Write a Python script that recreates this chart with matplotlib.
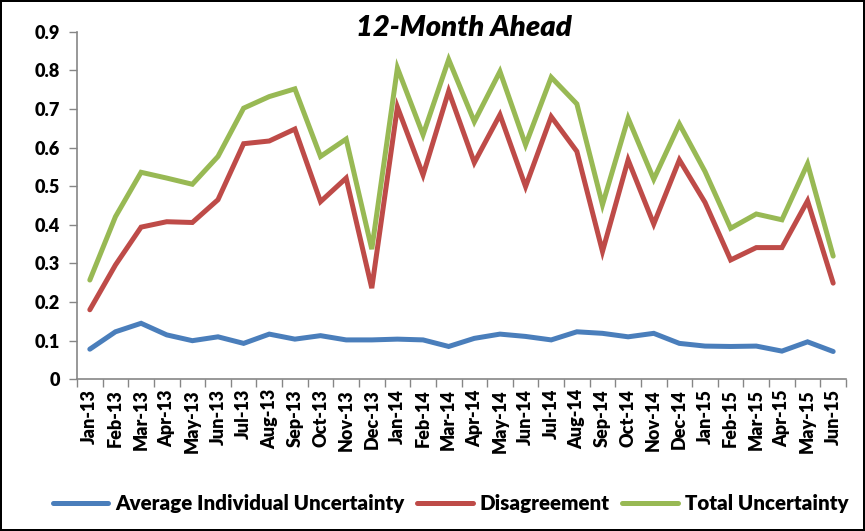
import matplotlib
matplotlib.use("Agg")
import matplotlib.pyplot as plt
import numpy as np

months = ["Jan-13", "Feb-13", "Mar-13", "Apr-13", "May-13", "Jun-13", "Jul-13", "Aug-13",
          "Sep-13", "Oct-13", "Nov-13", "Dec-13", "Jan-14", "Feb-14", "Mar-14", "Apr-14",
          "May-14", "Jun-14", "Jul-14", "Aug-14", "Sep-14", "Oct-14", "Nov-14", "Dec-14",
          "Jan-15", "Feb-15", "Mar-15", "Apr-15", "May-15", "Jun-15"]

avg_indiv = [0.078, 0.123, 0.145, 0.115, 0.100, 0.110, 0.093, 0.117, 0.104, 0.113,
             0.102, 0.102, 0.104, 0.102, 0.085, 0.106, 0.117, 0.111, 0.102, 0.123,
             0.119, 0.110, 0.119, 0.093, 0.086, 0.085, 0.086, 0.073, 0.097, 0.072]
disagreement = [0.180, 0.296, 0.394, 0.408, 0.406, 0.465, 0.610, 0.617, 0.648, 0.460,
                0.521, 0.236, 0.705, 0.529, 0.746, 0.561, 0.685, 0.499, 0.680, 0.590,
                0.331, 0.568, 0.402, 0.568, 0.458, 0.309, 0.341, 0.341, 0.462, 0.249]
total = [0.257, 0.421, 0.536, 0.521, 0.505, 0.577, 0.702, 0.732, 0.752, 0.577,
         0.622, 0.337, 0.806, 0.633, 0.828, 0.667, 0.797, 0.607, 0.782, 0.713,
         0.452, 0.676, 0.518, 0.661, 0.538, 0.391, 0.428, 0.413, 0.558, 0.319]

series = [
    ("Average Individual Uncertainty", avg_indiv, "#4A7EBB"),
    ("Disagreement", disagreement, "#BE4B48"),
    ("Total Uncertainty", total, "#98B954"),
]

plt.rcParams["font.family"] = ["Lato", "DejaVu Sans"]
plt.rcParams["font.weight"] = "heavy"

fig = plt.figure(figsize=(8.65, 5.31), dpi=100)
fig.patch.set_edgecolor("black")
fig.patch.set_linewidth(1.5)
ax = fig.add_axes([77 / 865, 1 - 379.3 / 531, (846 - 77) / 865, (379.3 - 31.7) / 531])

x = np.arange(len(months))
for name, vals, color in series:
    ax.plot(x, vals, color=color, lw=3.6, label=name, solid_capstyle="round",
            solid_joinstyle="miter")

ax.set_xlim(-0.5, len(months) - 0.5)
ax.set_ylim(0, 0.9)
ax.set_yticks(np.arange(0, 0.91, 0.1))
ax.set_yticklabels(["0"] + [f"{v:.1f}" for v in np.arange(0.1, 0.91, 0.1)],
                   fontsize=13, fontweight="heavy")
ax.set_xticks(x)
ax.set_xticklabels(months, rotation=90, fontsize=13, fontweight="heavy")
ax.set_xticks(np.arange(-0.5, len(months), 1.0), minor=True)
ax.tick_params(axis="x", which="major", length=0, pad=7)
ax.tick_params(axis="x", which="minor", length=6, color="#868686", width=1)
ax.tick_params(axis="y", length=6, color="#868686", width=1, pad=6)
for s in ("top", "right"):
    ax.spines[s].set_visible(False)
for s in ("left", "bottom"):
    ax.spines[s].set_color("#868686")
    ax.spines[s].set_linewidth(1.2)

fig.text(0.536, 0.948, "12-Month Ahead", ha="center", va="center",
         fontsize=21, fontweight="heavy", style="italic")

fig.legend(loc="center", bbox_to_anchor=(0.521, 0.052), ncol=3, frameon=False,
           handlelength=2.7, handletextpad=0.35, columnspacing=0.6,
           prop={"weight": "heavy", "size": 14.8})

fig.savefig("out.png", dpi=100)
